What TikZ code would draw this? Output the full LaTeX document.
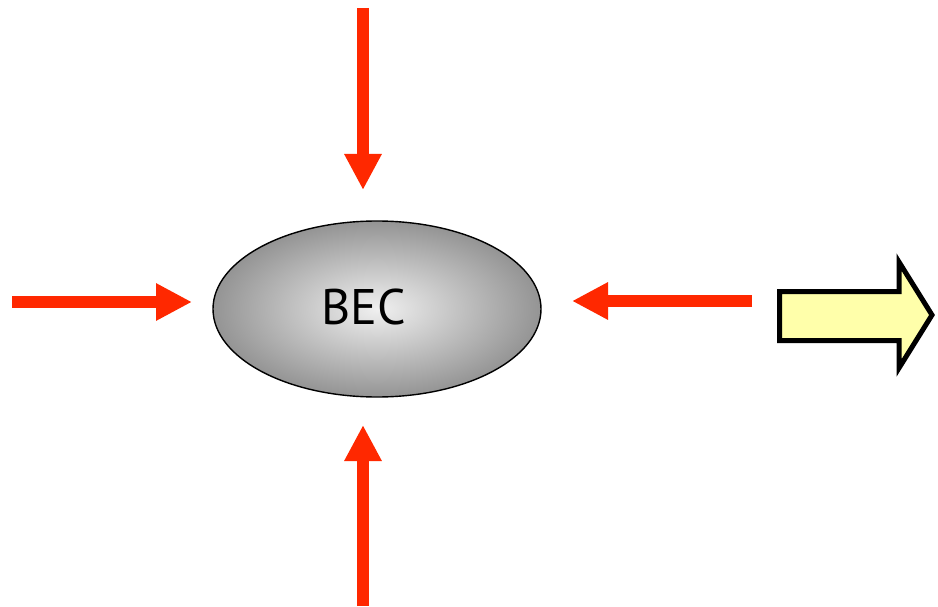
\documentclass[tikz,border=0pt]{standalone}
\usepackage{fontspec}
\setmainfont{PT Sans}
\usetikzlibrary{arrows.meta,shapes.geometric}
\definecolor{pushred}{RGB}{255,40,0}
\definecolor{paleyellow}{RGB}{255,255,170}
\tikzset{
  push/.style={draw=pushred, line width=12pt,
    -{Triangle[width=35pt,length=36pt]}},
  cloud/.style={ellipse, draw=black, line width=1.4pt,
    minimum width=328pt, minimum height=176pt, inner sep=0pt,
    inner color=white!94!black, outer color=black!42},
  bigarrow/.style={draw=black, fill=paleyellow, line width=5pt, line join=miter}
}
\begin{document}
\begin{tikzpicture}[x=1pt,y=-1pt]
  \useasboundingbox (0,0) rectangle (938,607);
  % condensate cloud
  \node[cloud] (bec) at (377,309) {};
  \node[font=\fontsize{50}{60}\selectfont, inner sep=0pt] (name) at (364,307) {BEC};
  % confining pushes from four sides
  \coordinate (topS) at (363,8);    \coordinate (topE) at (363,190);
  \coordinate (leftS) at (12,302);  \coordinate (leftE) at (192,302);
  \coordinate (rightS) at (752,301);\coordinate (rightE) at (572,301);
  \coordinate (botS) at (363,606);  \coordinate (botE) at (363,425);
  \draw[push] (topS) -- (topE);
  \draw[push] (leftS) -- (leftE);
  \draw[push] (rightS) -- (rightE);
  \draw[push] (botS) -- (botE);
  % outgoing block arrow
  \draw[bigarrow] (779.5,291.5) -- (899,291.5) -- (899,262) -- (932,315)
    -- (899,368) -- (899,340.5) -- (779.5,340.5) -- cycle;
\end{tikzpicture}
\end{document}
